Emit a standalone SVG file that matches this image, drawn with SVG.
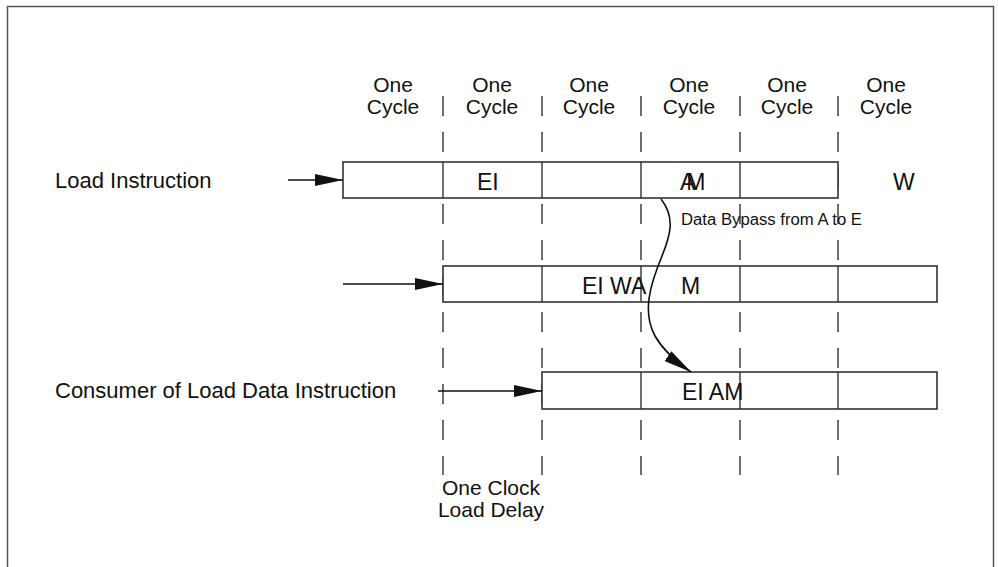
<svg xmlns="http://www.w3.org/2000/svg" width="998" height="567" viewBox="0 0 998 567">
<defs>
<style>
text{font-family:"Liberation Sans",Arial,sans-serif;fill:#111}
.lbl{font-size:22px}
.hdr{font-size:21px;text-anchor:middle}
.st{font-size:23px}
.box{fill:#fff;stroke:#333;stroke-width:1.6}
.div{stroke:#333;stroke-width:1.4}
.dash{stroke:#333;stroke-width:1.4;stroke-dasharray:20 16}
.arr{stroke:#111;stroke-width:1.6;fill:none}
</style>
<marker id="ah2" markerWidth="30" markerHeight="12" refX="28" refY="6" orient="auto" markerUnits="userSpaceOnUse"><path d="M0,0 L28,6 L0,12 Z" fill="#111"/></marker>
</defs>
<rect x="0" y="0" width="998" height="567" fill="#fff"/>
<rect id="frame" x="7.5" y="6.5" width="986" height="562" fill="none" stroke="#555" stroke-width="1.5"/>

<g id="grid">
<line class="dash" x1="443" y1="96" x2="443" y2="475"/>
<line class="dash" x1="542" y1="96" x2="542" y2="475"/>
<line class="dash" x1="641" y1="96" x2="641" y2="475"/>
<line class="dash" x1="740" y1="96" x2="740" y2="475"/>
<line class="dash" x1="838" y1="96" x2="838" y2="475"/>
</g>

<g id="headers">
<text class="hdr" x="393" y="92">One</text><text class="hdr" x="393" y="114">Cycle</text>
<text class="hdr" x="492" y="92">One</text><text class="hdr" x="492" y="114">Cycle</text>
<text class="hdr" x="589" y="92">One</text><text class="hdr" x="589" y="114">Cycle</text>
<text class="hdr" x="689" y="92">One</text><text class="hdr" x="689" y="114">Cycle</text>
<text class="hdr" x="787" y="92">One</text><text class="hdr" x="787" y="114">Cycle</text>
<text class="hdr" x="886" y="92">One</text><text class="hdr" x="886" y="114">Cycle</text>
</g>

<g id="load">
<text class="lbl" x="55" y="188">Load Instruction</text>
<rect class="box" x="343" y="162" width="495" height="36"/>
<line class="div" x1="443" y1="162" x2="443" y2="198"/>
<line class="div" x1="542" y1="162" x2="542" y2="198" stroke-width="2.4"/>
<line class="div" x1="641" y1="162" x2="641" y2="198"/>
<line class="div" x1="740" y1="162" x2="740" y2="198"/>
<text class="st" x="477" y="190">EI</text>
<text class="st" x="680" y="190" letter-spacing="-9">AM</text>
<text class="st" x="893" y="190">W</text>
</g>

<g id="second">
<rect class="box" x="443" y="266" width="494" height="36"/>
<line class="div" x1="542" y1="266" x2="542" y2="302"/>
<line class="div" x1="641" y1="266" x2="641" y2="302"/>
<line class="div" x1="740" y1="266" x2="740" y2="302"/>
<line class="div" x1="838" y1="266" x2="838" y2="302"/>
<text class="st" x="582" y="294">EI WA</text>
<text class="st" x="681" y="294">M</text>
</g>

<g id="consumer">
<text class="lbl" x="55" y="398">Consumer of Load Data Instruction</text>
<rect class="box" x="542" y="372" width="395" height="37"/>
<line class="div" x1="641" y1="372" x2="641" y2="409"/>
<line class="div" x1="740" y1="372" x2="740" y2="409"/>
<line class="div" x1="838" y1="372" x2="838" y2="409"/>
<text class="st" x="682" y="400">EI AM</text>
</g>

<g id="connectors">
<line class="arr" x1="288" y1="180" x2="343" y2="180" marker-end="url(#ah2)"/>
<line class="arr" x1="343" y1="284" x2="443" y2="284" marker-end="url(#ah2)"/>
<line class="arr" x1="438" y1="391" x2="542" y2="391" marker-end="url(#ah2)"/>
<path class="arr" stroke-width="2.2" d="M661,199 C676,218 670,236 662,256 C650,285 642,312 655,336 C664,352 678,363 691,372" marker-end="url(#ah2)"/>
</g>

<g id="notes">
<text x="681" y="225" font-size="16" textLength="181" lengthAdjust="spacingAndGlyphs">Data Bypass from A to E</text>
<text x="491" y="495" font-size="21" text-anchor="middle">One Clock</text>
<text x="491" y="517" font-size="21" text-anchor="middle">Load Delay</text>
</g>
</svg>
